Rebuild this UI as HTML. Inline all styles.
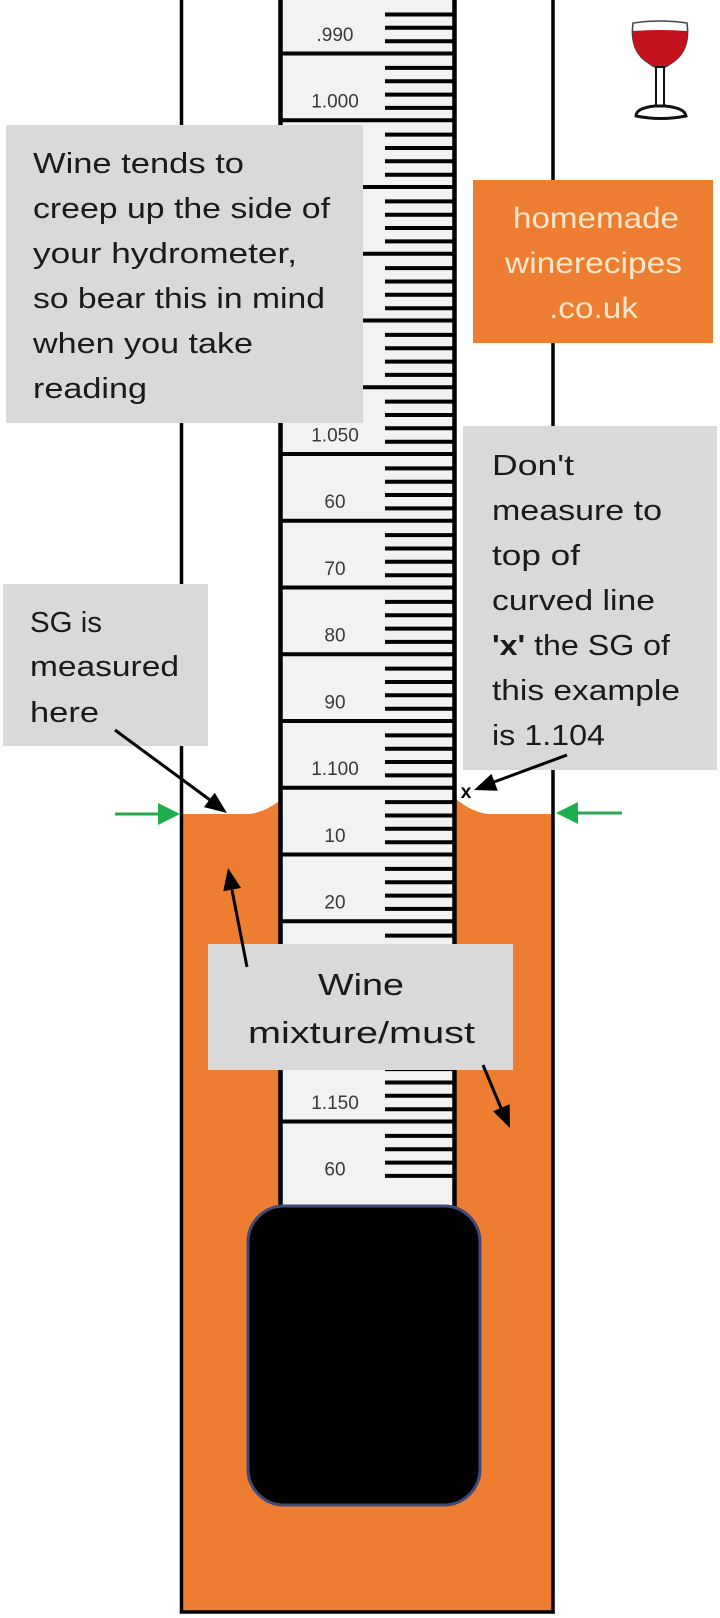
<!DOCTYPE html>
<html><head><meta charset="utf-8"><style>
html,body{margin:0;padding:0;background:#fff;}
svg{display:block;}
text{font-family:"Liberation Sans",Arial,sans-serif;}
</style></head><body>
<svg width="720" height="1618" viewBox="0 0 720 1618" xmlns="http://www.w3.org/2000/svg">
<rect x="0" y="0" width="720" height="1618" fill="#fff"/>
<!-- liquid -->
<rect x="181" y="814" width="372" height="798" fill="#ed7d31"/>
<path d="M236,815 C255,815 266,811 282,799 L282,816 Z" fill="#ed7d31"/>
<path d="M453,797 C463,804 472,813 495,815 L453,816 Z" fill="#ed7d31"/>
<!-- stem -->
<rect x="280" y="0" width="175" height="1207" fill="#f2f2f2"/>
<path stroke="#000" stroke-width="4" fill="none" d="
M280 53.5H455 M280 120.25H455 M280 187H455 M280 253.75H455 M280 320.5H455 M280 387.25H455 M280 454H455 M280 520.75H455 M280 587.5H455 M280 654.25H455 M280 721H455 M280 787.75H455 M280 854.5H455 M280 921.25H455 M280 988H455 M280 1054.75H455 M280 1121.5H455"/>
<path stroke="#000" stroke-width="4" fill="none" d="
M385 14.5H455 M385 27.8H455 M385 41.2H455
M385 67.9H455 M385 81.2H455 M385 94.6H455 M385 107.9H455
M385 134.6H455 M385 148H455 M385 161.3H455 M385 174.7H455
M385 201.4H455 M385 214.7H455 M385 228H455 M385 241.4H455
M385 268.1H455 M385 281.5H455 M385 294.8H455 M385 308.2H455
M385 334.9H455 M385 348.2H455 M385 361.6H455 M385 374.9H455
M385 401.6H455 M385 415H455 M385 428.3H455 M385 441.7H455
M385 468.4H455 M385 481.7H455 M385 495H455 M385 508.4H455
M385 535.1H455 M385 548.5H455 M385 561.8H455 M385 575.2H455
M385 601.9H455 M385 615.2H455 M385 628.6H455 M385 641.9H455
M385 668.6H455 M385 682H455 M385 695.3H455 M385 708.7H455
M385 735.4H455 M385 748.7H455 M385 762H455 M385 775.4H455
M385 802.1H455 M385 815.5H455 M385 828.8H455 M385 842.2H455
M385 868.9H455 M385 882.2H455 M385 895.6H455 M385 908.9H455
M385 935.6H455 M385 949H455 M385 962.3H455 M385 975.7H455
M385 1002.4H455 M385 1015.7H455 M385 1029H455 M385 1042.4H455
M385 1069.1H455 M385 1082.5H455 M385 1095.8H455 M385 1109.2H455
M385 1135.9H455 M385 1149.2H455 M385 1162.6H455 M385 1175.9H455"/>
<g font-size="19" fill="#3a3a3a" text-anchor="middle">
<text x="335" y="40.75">.990</text>
<text x="335" y="107.5">1.000</text>
<text x="335" y="174.25">1.010</text>
<text x="335" y="241">1.020</text>
<text x="335" y="307.75">1.030</text>
<text x="335" y="374.5">1.040</text>
<text x="335" y="441.25">1.050</text>
<text x="335" y="508">60</text>
<text x="335" y="574.75">70</text>
<text x="335" y="641.5">80</text>
<text x="335" y="708.25">90</text>
<text x="335" y="775">1.100</text>
<text x="335" y="841.75">10</text>
<text x="335" y="908.5">20</text>
<text x="335" y="975.25">30</text>
<text x="335" y="1042">40</text>
<text x="335" y="1108.75">1.150</text>
<text x="335" y="1175.5">60</text>
</g>
<line x1="280.5" y1="0" x2="280.5" y2="1207" stroke="#000" stroke-width="4.5"/>
<line x1="454.5" y1="0" x2="454.5" y2="1207" stroke="#000" stroke-width="4.5"/>
<!-- tube -->
<line x1="181.5" y1="0" x2="181.5" y2="1613.5" stroke="#000" stroke-width="3.5"/>
<line x1="553" y1="0" x2="553" y2="1613.5" stroke="#000" stroke-width="3.5"/>
<line x1="179.8" y1="1612" x2="554.8" y2="1612" stroke="#000" stroke-width="3.5"/>
<!-- bulb -->
<rect x="248" y="1206" width="232" height="299" rx="36" ry="36" fill="#000" stroke="#3d4b78" stroke-width="3"/>
<!-- boxes -->
<rect x="6" y="125" width="357" height="298" fill="#d9d9d9"/>
<g font-size="29" fill="#1a1a1a">
<text x="33" y="173" textLength="211" lengthAdjust="spacingAndGlyphs">Wine tends to</text>
<text x="33" y="218" textLength="297" lengthAdjust="spacingAndGlyphs">creep up the side of</text>
<text x="33" y="263" textLength="264" lengthAdjust="spacingAndGlyphs">your hydrometer,</text>
<text x="33" y="308" textLength="292" lengthAdjust="spacingAndGlyphs">so bear this in mind</text>
<text x="33" y="353" textLength="220" lengthAdjust="spacingAndGlyphs">when you take</text>
<text x="33" y="398" textLength="114" lengthAdjust="spacingAndGlyphs">reading</text>
</g>
<rect x="473" y="180" width="240" height="163" fill="#ed7d31"/>
<g font-size="30" fill="#fce6cc">
<text x="513" y="228" textLength="166" lengthAdjust="spacingAndGlyphs">homemade</text>
<text x="505" y="273" textLength="177" lengthAdjust="spacingAndGlyphs">winerecipes</text>
<text x="549" y="318" textLength="89" lengthAdjust="spacingAndGlyphs">.co.uk</text>
</g>
<rect x="463" y="426" width="254" height="344" fill="#d9d9d9"/>
<g font-size="29" fill="#1a1a1a">
<text x="492" y="475" textLength="82" lengthAdjust="spacingAndGlyphs">Don't</text>
<text x="492" y="520" textLength="170" lengthAdjust="spacingAndGlyphs">measure to</text>
<text x="492" y="565" textLength="88" lengthAdjust="spacingAndGlyphs">top of</text>
<text x="492" y="610" textLength="163" lengthAdjust="spacingAndGlyphs">curved line</text>
<text x="492" y="655" textLength="178" lengthAdjust="spacingAndGlyphs"><tspan font-weight="bold">'x'</tspan> the SG of</text>
<text x="492" y="700" textLength="188" lengthAdjust="spacingAndGlyphs">this example</text>
<text x="492" y="745" textLength="113" lengthAdjust="spacingAndGlyphs">is 1.104</text>
</g>
<rect x="3" y="584" width="205" height="162" fill="#d9d9d9"/>
<g font-size="29" fill="#1a1a1a">
<text x="30" y="632" textLength="72" lengthAdjust="spacingAndGlyphs">SG is</text>
<text x="30" y="676" textLength="149" lengthAdjust="spacingAndGlyphs">measured</text>
<text x="30" y="722" textLength="69" lengthAdjust="spacingAndGlyphs">here</text>
</g>
<rect x="208" y="944" width="305" height="126" fill="#d9d9d9"/>
<g font-size="31" fill="#1a1a1a">
<text x="318" y="995" textLength="86" lengthAdjust="spacingAndGlyphs">Wine</text>
<text x="248" y="1043" textLength="227" lengthAdjust="spacingAndGlyphs">mixture/must</text>
</g>
<!-- black arrows -->
<g stroke="#000" stroke-width="3" fill="none">
<line x1="115" y1="730" x2="210" y2="800"/>
<line x1="567" y1="755" x2="494" y2="782"/>
<line x1="247" y1="967" x2="232" y2="890"/>
<line x1="483" y1="1065" x2="501" y2="1108"/>
</g>
<g fill="#000">
<polygon points="227,813 203.9,807.1 214.7,792.7"/>
<polygon points="474,790 491.4,773.9 497.8,790.7"/>
<polygon points="228,868 241,887.9 223.3,891.3"/>
<polygon points="510,1128 493,1111.3 509.6,1104.3"/>
</g>
<text x="466" y="798" font-size="19" font-weight="bold" text-anchor="middle" fill="#000">x</text>
<!-- green arrows -->
<line x1="115" y1="814" x2="162" y2="814" stroke="#2aa84f" stroke-width="3"/>
<polygon points="158,803 180,814 158,825" fill="#1fae4c"/>
<line x1="576" y1="813" x2="622" y2="813" stroke="#2aa84f" stroke-width="3"/>
<polygon points="578,802 556,813 578,824" fill="#1fae4c"/>
<!-- wine glass -->
<path d="M633,23 Q660,19 687,23 Q691,52 670,64 Q665,68 660,68 Q655,68 650,64 Q629,52 633,23 Z" fill="#fff" stroke="#444" stroke-width="1.5"/>
<path d="M633,31 Q660,29 687,31 Q689,53 670,64 Q665,67 660,67 Q655,67 650,64 Q631,53 633,31 Z" fill="#c3121e"/>
<rect x="656" y="67" width="8" height="41" fill="#fff" stroke="#111" stroke-width="2"/>
<path d="M636,116 Q636,108 655,106 L665,106 Q685,108 686,116 Q661,121 636,116 Z" fill="#fff" stroke="#111" stroke-width="3"/>
</svg>
</body></html>
